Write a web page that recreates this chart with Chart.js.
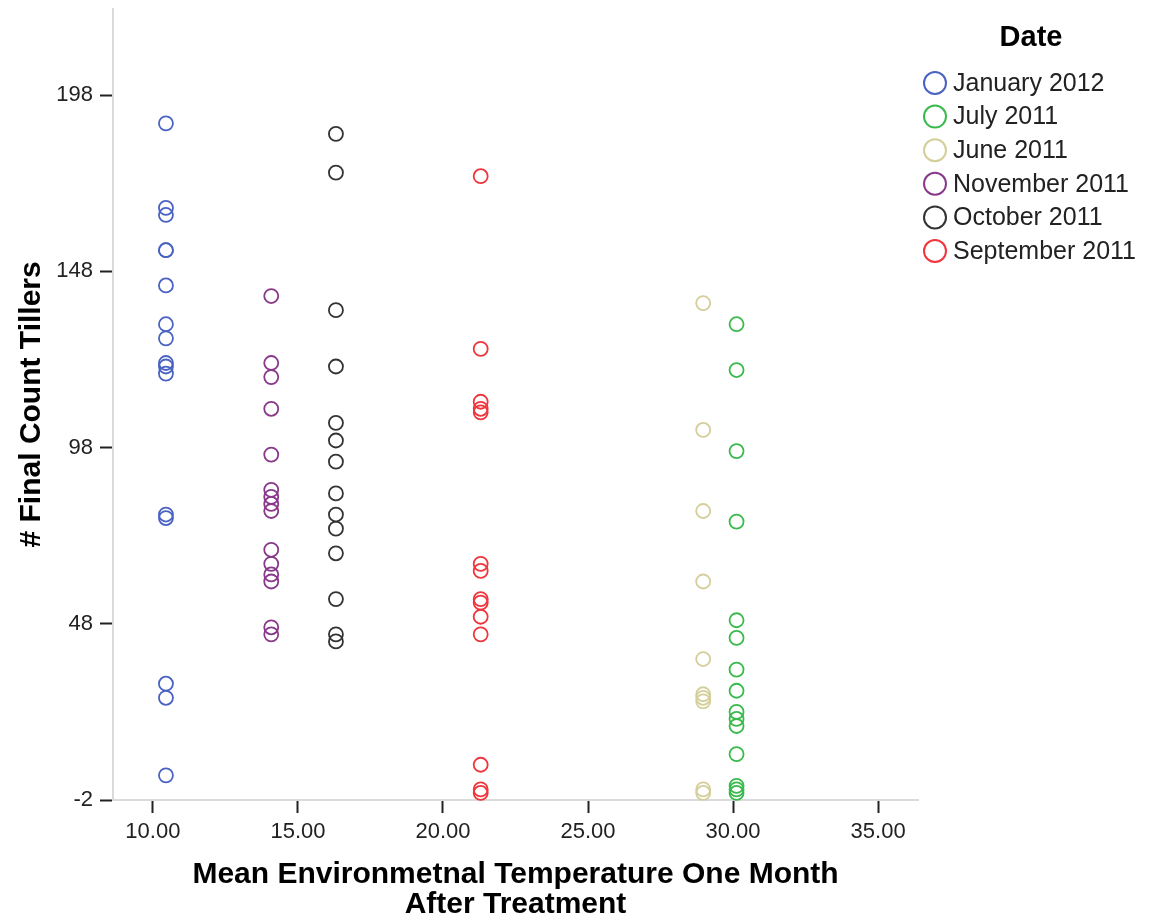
<!DOCTYPE html>
<html>
<head>
<meta charset="utf-8">
<title>Final Count Tillers by Temperature</title>
<script src="https://cdn.jsdelivr.net/npm/chart.js@4.4.1/dist/chart.umd.min.js"></script>
<style>
  html, body { margin: 0; padding: 0; background: #ffffff; }
  #wrap { width: 1150px; height: 920px; position: relative; }
  canvas { display: block; }
</style>
</head>
<body>
<div id="wrap"><canvas id="chart" width="1150" height="920"></canvas></div>
<script>
// Sampling dates (legend order) and the mean temperature one month after treatment
const dateLabels = ['January 2012', 'July 2011', 'June 2011', 'November 2011', 'October 2011', 'September 2011'];
const meanTemps = [10.45, 30.12, 28.97, 14.08, 16.31, 21.30];

// Final tiller counts for each date
const tillersJan2012 = [190, 166, 164, 154, 154, 144, 133, 129, 122, 121, 119, 79, 78, 31, 27, 5];
const tillersJul2011 = [133, 120, 97, 77, 49, 44, 35, 29, 23, 21, 19, 11, 2, 1, 0];
const tillersJun2011 = [139, 103, 80, 60, 38, 28, 27, 26, 1, 0];
const tillersNov2011 = [141, 122, 118, 109, 96, 86, 84, 82, 80, 69, 65, 62, 60, 47, 45];
const tillersOct2011 = [187, 176, 137, 121, 105, 100, 94, 85, 79, 75, 68, 55, 45, 43];
const tillersSep2011 = [175, 126, 111, 109, 108, 65, 63, 55, 54, 50, 45, 8, 1, 0];

const seriesColors = ['#4a63c2', '#38bb4c', '#d4cf9a', '#88398a', '#333333', '#f0353d'];

// Axis tick labels
const xTicks = [10, 15, 20, 25, 30, 35];
const yTicks = [-2, 48, 98, 148, 198];

const allTillers = [tillersJan2012, tillersJul2011, tillersJun2011, tillersNov2011, tillersOct2011, tillersSep2011];

const FONT = '"Liberation Sans", Arial, Helvetica, sans-serif';

const datasets = dateLabels.map((label, i) => ({
  label: label,
  data: allTillers[i].map(v => ({ x: meanTemps[i], y: v })),
  borderColor: seriesColors[i],
  backgroundColor: 'rgba(0,0,0,0)',
  pointStyle: 'circle',
  pointRadius: 7,
  pointHoverRadius: 7,
  borderWidth: 1.8,
  showLine: false,
  clip: false
}));

// Legend at the right of the plot, drawn from the datasets
const dateLegend = {
  id: 'dateLegend',
  afterDraw(chart) {
    const ctx = chart.ctx;
    ctx.save();
    ctx.fillStyle = '#000';
    ctx.font = 'bold 29px ' + FONT;
    ctx.textAlign = 'center';
    ctx.textBaseline = 'middle';
    ctx.fillText('Date', 1031, 38);
    ctx.textAlign = 'left';
    ctx.font = '25px ' + FONT;
    chart.data.datasets.forEach((ds, i) => {
      const cy = 83 + i * 33.6;
      ctx.beginPath();
      ctx.arc(935, cy, 11, 0, Math.PI * 2);
      ctx.lineWidth = 2;
      ctx.strokeStyle = ds.borderColor;
      ctx.stroke();
      ctx.fillStyle = '#222';
      ctx.fillText(ds.label, 953, cy + 1);
    });
    ctx.restore();
  }
};

new Chart(document.getElementById('chart'), {
  type: 'scatter',
  data: { datasets: datasets },
  options: {
    responsive: false,
    animation: false,
    devicePixelRatio: 1,
    layout: { padding: { left: 0, top: 7, right: 232, bottom: 0 } },
    plugins: {
      legend: { display: false },
      tooltip: { enabled: false }
    },
    scales: {
      x: {
        type: 'linear',
        min: 8.625,
        max: 36.375,
        afterBuildTicks: s => { s.ticks = xTicks.map(v => ({ value: v })); },
        afterFit: s => { s.height = 120; s.paddingLeft = 0; s.paddingRight = 0; },
        ticks: {
          autoSkip: false,
          maxRotation: 0,
          padding: 6,
          color: '#222',
          font: { family: FONT, size: 22 },
          callback: v => Number(v).toFixed(2)
        },
        grid: {
          drawOnChartArea: false,
          drawTicks: true,
          tickLength: 13,
          tickColor: '#222',
          tickWidth: 2
        },
        border: { display: true, color: '#dadada', width: 2 },
        title: {
          display: true,
          text: ['Mean Environmetnal Temperature One Month', 'After Treatment'],
          color: '#000',
          font: { family: FONT, size: 30, weight: 'bold', lineHeight: 0.98 },
          padding: { top: 0, bottom: 1 }
        }
      },
      y: {
        type: 'linear',
        min: -2,
        max: 222.5,
        afterBuildTicks: s => { s.ticks = yTicks.map(v => ({ value: v })); },
        afterFit: s => { s.width = 113; s.paddingTop = 0; s.paddingBottom = 0; },
        ticks: {
          autoSkip: false,
          padding: 7,
          color: '#222',
          font: { family: FONT, size: 22 },
          callback: v => String(v)
        },
        grid: {
          drawOnChartArea: false,
          drawTicks: true,
          tickLength: 13,
          tickColor: '#222',
          tickWidth: 2
        },
        border: { display: true, color: '#dadada', width: 2 },
        title: {
          display: true,
          text: '# Final Count Tillers',
          color: '#000',
          font: { family: FONT, size: 30, weight: 'bold', lineHeight: 1.0 },
          padding: { top: 17, bottom: 0 }
        }
      }
    }
  },
  plugins: [dateLegend]
});
</script>
</body>
</html>
